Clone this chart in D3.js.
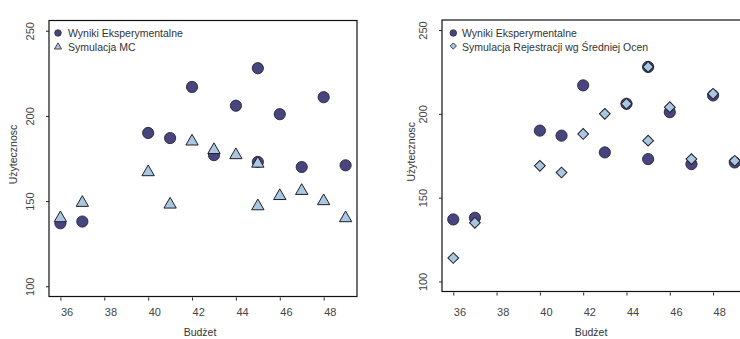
<!DOCTYPE html>
<html>
<head>
<meta charset="utf-8">
<script src="https://cdn.jsdelivr.net/npm/d3@7"></script>
<style>
  html, body { margin: 0; padding: 0; background: #fff; }
  svg { display: block; font-family: "Liberation Sans", Arial, sans-serif; }
</style>
</head>
<body>
<svg id="chart" width="740" height="339"></svg>
<script>
// Budget levels and measured utility for each run
const budget = [36, 37, 40, 41, 42, 43, 44, 45, 45, 46, 47, 48, 49];
const experimental = [137, 138, 190, 187, 217, 177, 206, 228, 173, 201, 170, 211, 171];
// Monte Carlo simulation
const mcSimulation = [140, 149, 167, 148, 185, 180, 177, 172, 147, 153, 156, 150, 140];
// Enrolment simulation driven by average grades
const gpaSimulation = [114, 135, 169, 165, 188, 200, 206, 228, 184, 204, 173, 212, 172];

const xTicks = [36, 38, 40, 42, 44, 46, 48];
const yTicks = [100, 150, 200, 250];
const xLabel = "Budżet";
const yLabel = "Użytecznosc";
const seriesNames = ["Wyniki Eksperymentalne", "Symulacja MC", "Symulacja Rejestracji wg Średniej Ocen"];

const xDomain = [35.48, 49.52];
const yDomain = [94, 256];

const darkFill = "#48447e", darkStroke = "#26253a";
const lightFill = "#a9c7df", lightStroke = "#1e1e2a";

const svg = d3.select("#chart");

function panel(opt) {
  const g = svg.append("g");
  const x = d3.scaleLinear().domain(xDomain).range([opt.left, opt.right]);
  const y = d3.scaleLinear().domain(yDomain).range([opt.bottom, opt.top]);

  // frame
  g.append("rect")
    .attr("x", opt.left).attr("y", opt.top)
    .attr("width", opt.right - opt.left).attr("height", opt.bottom - opt.top)
    .attr("fill", "none").attr("stroke", "#111").attr("stroke-width", 1.2);

  // x axis
  const xa = g.append("g").attr("transform", `translate(0,${opt.bottom + 1})`)
    .call(d3.axisBottom(x).tickValues(xTicks).tickSize(3).tickFormat(d3.format("d")));
  xa.select(".domain").remove();
  xa.selectAll(".tick line").attr("stroke", "#222");
  xa.selectAll(".tick text")
    .attr("text-anchor", "start").attr("y", null).attr("dy", null)
    .attr("transform", null)
    .attr("y", 316 - opt.bottom - 1)
    .attr("font-size", 11).attr("fill", "#444")
    .style("font-family", "'Liberation Sans', Arial, sans-serif");

  // y axis
  const ya = g.append("g").attr("transform", `translate(${opt.left},0)`)
    .call(d3.axisLeft(y).tickValues(yTicks).tickSize(3).tickFormat(d3.format("d")));
  ya.select(".domain").remove();
  ya.selectAll(".tick line").attr("stroke", "#222");
  ya.selectAll(".tick text")
    .attr("x", null).attr("dy", null)
    .attr("text-anchor", "middle")
    .attr("transform", `translate(${-opt.yLabelGap},0) rotate(-90)`)
    .attr("font-size", 11).attr("fill", "#444")
    .style("font-family", "'Liberation Sans', Arial, sans-serif");

  // axis titles
  g.append("text")
    .attr("x", (opt.left + opt.right) / 2 - 3).attr("y", 336)
    .attr("text-anchor", "middle").attr("font-size", 10.5).attr("fill", "#333")
    .text(xLabel);
  g.append("text")
    .attr("transform", `translate(${opt.yTitleX},${(opt.top + opt.bottom) / 2 - 4}) rotate(-90)`)
    .attr("text-anchor", "middle").attr("font-size", 10.5).attr("fill", "#333")
    .text(yLabel);

  // clip marks at the frame
  const pts = budget.map((b, i) => ({ b, e: experimental[i], s: opt.sim[i] }));

  g.selectAll("circle.exp").data(pts).join("circle")
    .attr("class", "exp")
    .attr("cx", d => x(d.b)).attr("cy", d => y(d.e)).attr("r", 5.6)
    .attr("fill", darkFill).attr("stroke", darkStroke).attr("stroke-width", 0.9);

  g.selectAll("path.sim").data(pts).join("path")
    .attr("class", "sim")
    .attr("d", opt.symbolPath)
    .attr("transform", d => `translate(${x(d.b)},${y(d.s)})${opt.symbolRotate}`)
    .attr("fill", lightFill).attr("stroke", lightStroke).attr("stroke-width", 1);

  // legend
  const lg = g.append("g");
  lg.append("circle").attr("cx", opt.legX).attr("cy", 33).attr("r", 3.3)
    .attr("fill", darkFill).attr("stroke", darkStroke).attr("stroke-width", 0.7);
  lg.append("path").attr("d", opt.legendPath)
    .attr("transform", `translate(${opt.legX},${opt.legY2})${opt.symbolRotate}`)
    .attr("fill", lightFill).attr("stroke", lightStroke).attr("stroke-width", 0.8);
  lg.append("text").attr("x", opt.legTextX).attr("y", 37)
    .attr("font-size", 10.5).attr("fill", "#333").text(seriesNames[0]);
  lg.append("text").attr("x", opt.legTextX).attr("y", 51)
    .attr("font-size", 10.5).attr("fill", "#333").text(opt.simName);
}

panel({
  left: 49, right: 357, top: 20.5, bottom: 296.5,
  yLabelGap: 15, yTitleX: 17,
  sim: mcSimulation, simName: seriesNames[1],
  symbolPath: d3.symbol(d3.symbolTriangle, 66)(),
  legendPath: d3.symbol(d3.symbolTriangle, 22)(),
  symbolRotate: "",
  legX: 58, legY2: 47, legTextX: 68
});

panel({
  left: 442, right: 746, top: 20, bottom: 291.5,
  yLabelGap: 15, yTitleX: 415,
  sim: gpaSimulation, simName: seriesNames[2],
  symbolPath: d3.symbol(d3.symbolSquare, 58)(),
  legendPath: d3.symbol(d3.symbolSquare, 19)(),
  symbolRotate: " rotate(45)",
  legX: 453.3, legY2: 46, legTextX: 462
});
</script>
</body>
</html>
